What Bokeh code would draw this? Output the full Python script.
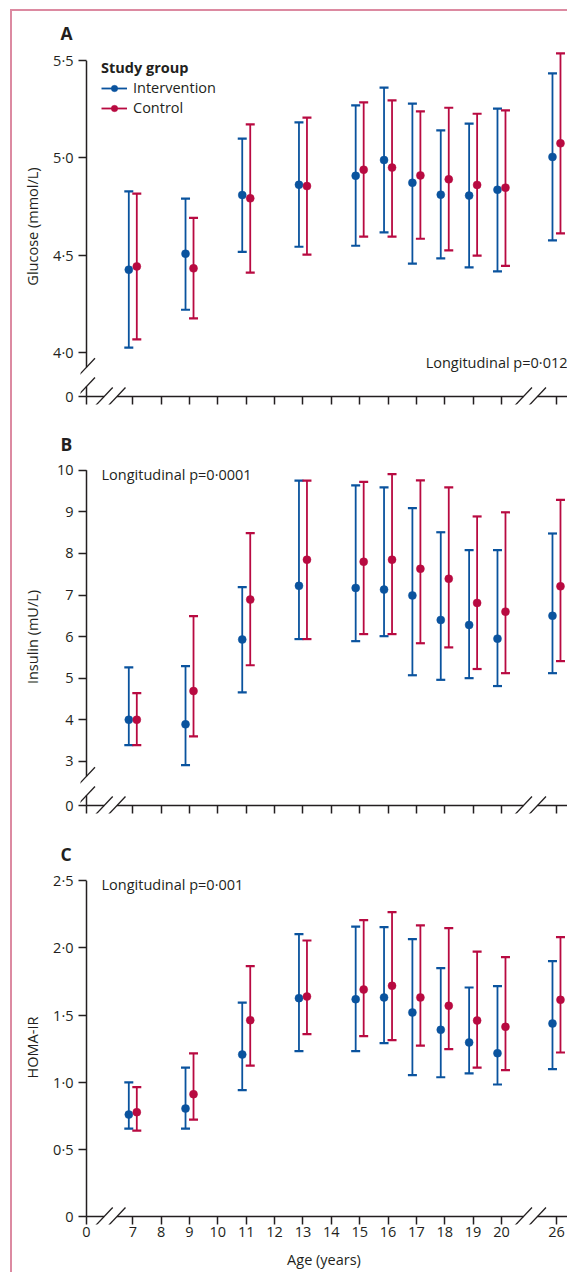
from bokeh.plotting import figure
from bokeh.models import Range1d, FixedTicker, Label, Legend, LegendItem
from bokeh.layouts import column
from bokeh.embed import file_html
from bokeh.resources import INLINE

# ---------------- data ----------------
ages = [7, 9, 11, 13, 15, 16, 17, 18, 19, 20, 26]
x_tick_ages = [0, 7, 8, 9, 10, 11, 12, 13, 14, 15, 16, 17, 18, 19, 20, 26]

glucose_int_mean = [4.425, 4.507, 4.809, 4.862, 4.908, 4.989, 4.872, 4.811, 4.806, 4.836, 5.005]
glucose_int_lo = [4.024, 4.219, 4.517, 4.543, 4.548, 4.617, 4.456, 4.483, 4.437, 4.416, 4.576]
glucose_int_hi = [4.828, 4.790, 5.099, 5.183, 5.270, 5.361, 5.279, 5.142, 5.176, 5.253, 5.435]
glucose_ctl_mean = [4.442, 4.432, 4.792, 4.855, 4.939, 4.950, 4.910, 4.890, 4.861, 4.847, 5.075]
glucose_ctl_lo = [4.066, 4.174, 4.410, 4.502, 4.595, 4.595, 4.584, 4.524, 4.497, 4.445, 4.612]
glucose_ctl_hi = [4.816, 4.692, 5.172, 5.207, 5.286, 5.296, 5.239, 5.258, 5.227, 5.244, 5.538]

insulin_int_mean = [4.00, 3.89, 5.93, 7.22, 7.17, 7.13, 6.99, 6.40, 6.28, 5.95, 6.50]
insulin_int_lo = [3.39, 2.91, 4.66, 5.94, 5.89, 6.01, 5.07, 4.96, 5.00, 4.81, 5.12]
insulin_int_hi = [5.26, 5.29, 7.19, 9.75, 9.64, 9.59, 9.09, 8.51, 8.08, 8.08, 8.48]
insulin_ctl_mean = [4.00, 4.69, 6.89, 7.85, 7.80, 7.85, 7.63, 7.39, 6.81, 6.60, 7.21]
insulin_ctl_lo = [3.39, 3.60, 5.31, 5.94, 6.06, 6.06, 5.84, 5.74, 5.22, 5.12, 5.41]
insulin_ctl_hi = [4.64, 6.49, 8.49, 9.75, 9.72, 9.91, 9.76, 9.59, 8.89, 8.99, 9.29]

homa_int_mean = [0.759, 0.804, 1.206, 1.626, 1.618, 1.631, 1.519, 1.390, 1.296, 1.216, 1.437]
homa_int_lo = [0.655, 0.655, 0.941, 1.231, 1.231, 1.291, 1.052, 1.037, 1.065, 0.983, 1.097]
homa_int_hi = [0.998, 1.109, 1.593, 2.102, 2.159, 2.154, 2.065, 1.849, 1.705, 1.715, 1.901]
homa_ctl_mean = [0.777, 0.911, 1.462, 1.638, 1.690, 1.718, 1.631, 1.569, 1.459, 1.412, 1.613]
homa_ctl_lo = [0.640, 0.722, 1.124, 1.358, 1.343, 1.313, 1.273, 1.246, 1.109, 1.090, 1.221]
homa_ctl_hi = [0.963, 1.214, 1.864, 2.055, 2.207, 2.266, 2.167, 2.147, 1.973, 1.931, 2.080]

glucose_ticks = [4.0, 4.5, 5.0, 5.5]
insulin_ticks = [3, 4, 5, 6, 7, 8, 9, 10]
homa_ticks = [0.0, 0.5, 1.0, 1.5, 2.0, 2.5]

group_names = ["Intervention", "Control"]
pvalues = ["Longitudinal p=0·012", "Longitudinal p=0·0001", "Longitudinal p=0·001"]

# ---------------- style / geometry ----------------
FONT = "Open Sans"
FS = "14.5px"
INK = "#231f20"
BLUE = "#0a539e"
RED = "#b80a41"
FRAME_COLOR = "#dc8aa1"

FIG_W = 555
MB_LEFT = 68
FRAME_W = FIG_W - MB_LEFT
KX = 28.36                      # px per year
X0 = 7 - 46.3 / KX              # axis origin position ("0")
X_START = X0 - 6 / KX
X_END = X_START + FRAME_W / KX
POS_26 = 20 + 55 / KX           # compressed position after axis break
DX = 4 / KX                     # group offset


def age_pos(a):
    if a == 0:
        return X0
    if a <= 20:
        return a
    return POS_26


def fmt(v, decimals):
    if decimals == 0:
        return str(int(round(v)))
    return f"{v:.{decimals}f}".replace(".", "·")


def make_panel(letter, ylabel, yticks, decimals, ky, ybreak, frame_h, mbt, mbb,
               int_mean, int_lo, int_hi, ctl_mean, ctl_lo, ctl_hi,
               ptext, pmode, show_xlabels, label_standoff, title_standoff,
               legend=False):
    if ybreak:
        y0 = yticks[0] - 44.2 / ky
    else:
        y0 = yticks[0]
    y_start = y0 - 8 / ky
    y_end = y_start + frame_h / ky
    height = mbt + frame_h + mbb

    p = figure(width=FIG_W, height=height, x_range=Range1d(X_START, X_END),
               y_range=Range1d(y_start, y_end), output_backend="svg",
               toolbar_location=None, min_border_left=MB_LEFT, min_border_right=0,
               min_border_top=mbt, min_border_bottom=mbb, title=letter)
    p.grid.visible = False
    p.outline_line_color = None
    p.background_fill_color = "white"
    p.border_fill_color = "white"

    p.title.text_font = FONT
    p.title.text_font_size = "17.5px"
    p.title.text_font_style = "bold"
    p.title.text_color = INK
    p.title.align = "left"
    p.title.offset = -20
    p.title.standoff = title_standoff

    # x axis
    xa = p.xaxis[0]
    xt = [age_pos(a) for a in x_tick_ages]
    xa.ticker = FixedTicker(ticks=xt)
    xa.axis_line_color = None
    xa.major_tick_in = 8
    xa.major_tick_out = 0
    xa.major_tick_line_color = INK
    xa.major_tick_line_width = 1.5
    xa.minor_tick_line_color = None
    xa.major_label_text_font = FONT
    xa.major_label_text_color = INK
    if show_xlabels:
        xa.major_label_overrides = {pos: str(a) for pos, a in zip(xt, x_tick_ages)}
        xa.major_label_text_font_size = FS
        xa.major_label_standoff = 2
        xa.axis_label = "Age (years)"
        xa.axis_label_text_font = FONT
        xa.axis_label_text_font_size = FS
        xa.axis_label_text_font_style = "normal"
        xa.axis_label_text_color = INK
        xa.axis_label_standoff = 10
    else:
        xa.major_label_overrides = {pos: "" for pos in xt}
        xa.major_label_text_font_size = "1px"
        xa.major_label_standoff = 0

    # y axis
    ya = p.yaxis[0]
    yt = ([y0] if ybreak else []) + list(yticks)
    ya.ticker = FixedTicker(ticks=yt)
    overrides = {v: fmt(v, decimals) for v in yticks}
    overrides[y0] = "0"
    ya.major_label_overrides = overrides
    ya.axis_line_color = None
    ya.major_tick_in = 6
    ya.major_tick_out = 2
    ya.major_tick_line_color = INK
    ya.major_tick_line_width = 1.5
    ya.minor_tick_line_color = None
    ya.major_label_text_font = FONT
    ya.major_label_text_font_size = FS
    ya.major_label_text_color = INK
    ya.major_label_standoff = 5
    ya.axis_label = ylabel
    ya.axis_label_text_font = FONT
    ya.axis_label_text_font_size = FS
    ya.axis_label_text_font_style = "normal"
    ya.axis_label_text_color = INK
    ya.axis_label_standoff = label_standoff

    # hand-drawn axis lines with breaks
    hx = 8.5 / KX
    hy = 9 / ky
    sx0, sy0, sx1, sy1 = [], [], [], []
    xb1 = X0 + 17.7 / KX
    xb2 = X0 + 30.5 / KX
    xb3 = 20 + 22 / KX
    xb4 = 20 + 36 / KX
    for a, b in [(X0, xb1), (xb2, xb3), (xb4, X_END)]:
        sx0.append(a); sy0.append(y0); sx1.append(b); sy1.append(y0)
    top = yticks[-1]
    if ybreak:
        yb1 = y0 + 10 / ky
        yb2 = y0 + 29.3 / ky
        for a, b in [(y0, yb1), (yb2, top)]:
            sx0.append(X0); sy0.append(a); sx1.append(X0); sy1.append(b)
    else:
        sx0.append(X0); sy0.append(y0); sx1.append(X0); sy1.append(top)
    p.segment(x0=sx0, y0=sy0, x1=sx1, y1=sy1, line_color=INK, line_width=1.5)

    # break marks
    bx0, by0, bx1, by1 = [], [], [], []
    for cx in [xb1, xb2, xb3, xb4]:
        bx0.append(cx - hx); by0.append(y0 - 9 / ky); bx1.append(cx + hx); by1.append(y0 + 9 / ky)
    if ybreak:
        for cy in [yb1, yb2]:
            bx0.append(X0 - hx); by0.append(cy - hy); bx1.append(X0 + hx); by1.append(cy + hy)
    p.segment(x0=bx0, y0=by0, x1=bx1, y1=by1, line_color=INK, line_width=1.3)

    # data
    renderers = []
    for mean, lo, hi, color, off in [(int_mean, int_lo, int_hi, BLUE, -DX),
                                      (ctl_mean, ctl_lo, ctl_hi, RED, DX)]:
        xs = [age_pos(a) + off for a in ages]
        seg = p.segment(x0=xs, y0=lo, x1=xs, y1=hi, line_color=color, line_width=1.8)
        p.scatter(x=xs + xs, y=list(lo) + list(hi), marker="dash", size=9,
                  line_color=color, line_width=2.2)
        dots = p.scatter(x=xs, y=mean, marker="circle", size=8,
                         fill_color=color, line_color=color, line_width=0.5)
        renderers.append((seg, dots))

    if legend:
        items = [LegendItem(label=name, renderers=[seg, dots])
                 for name, (seg, dots) in zip(group_names, renderers)]
        lg = Legend(items=items, location=(21, frame_h - 69))
        lg.title = "Study group"
        lg.title_text_font = FONT
        lg.title_text_font_size = FS
        lg.title_text_font_style = "bold"
        lg.title_text_color = INK
        lg.title_standoff = 1
        lg.label_text_font = FONT
        lg.label_text_font_size = FS
        lg.label_text_color = INK
        lg.glyph_width = 26
        lg.glyph_height = 16
        lg.label_standoff = 6
        lg.spacing = 1
        lg.padding = 0
        lg.margin = 0
        lg.border_line_color = None
        lg.background_fill_alpha = 0
        p.add_layout(lg)

    # longitudinal p value
    if pmode == "right":
        lab = Label(x=X_END, y=yticks[0] - 0.052, text=ptext, text_align="right",
                    text_baseline="middle")
    else:
        lab = Label(x=X0 + 15 / KX, y=yticks[-1] - 4 / ky, text=ptext,
                    text_align="left", text_baseline="middle")
    lab.text_font = FONT
    lab.text_font_size = FS
    lab.text_color = INK
    p.add_layout(lab)
    return p


pA = make_panel("A", "Glucose (mmol/L)", glucose_ticks, 1, 194.4, True, 356, 37, 14,
                glucose_int_mean, glucose_int_lo, glucose_int_hi,
                glucose_ctl_mean, glucose_ctl_lo, glucose_ctl_hi,
                pvalues[0], "right", False, 8, 7, legend=True)
pB = make_panel("B", "Insulin (mU/L)", insulin_ticks, 0, 41.57, True, 353, 42, 14,
                insulin_int_mean, insulin_int_lo, insulin_int_hi,
                insulin_ctl_mean, insulin_ctl_lo, insulin_ctl_hi,
                pvalues[1], "left", False, 12, 9)
pC = make_panel("C", "HOMA-IR", homa_ticks, 1, 134.3, False, 354, 43, 48,
                homa_int_mean, homa_int_lo, homa_int_hi,
                homa_ctl_mean, homa_ctl_lo, homa_ctl_hi,
                pvalues[2], "left", True, 8, 9)

layout = column(pA, pB, pC, margin=(9, 0, 0, 10),
                styles={"border-top": f"2px solid {FRAME_COLOR}",
                        "border-left": f"2px solid {FRAME_COLOR}"})

open("out.html", "w").write(file_html(layout, INLINE))
